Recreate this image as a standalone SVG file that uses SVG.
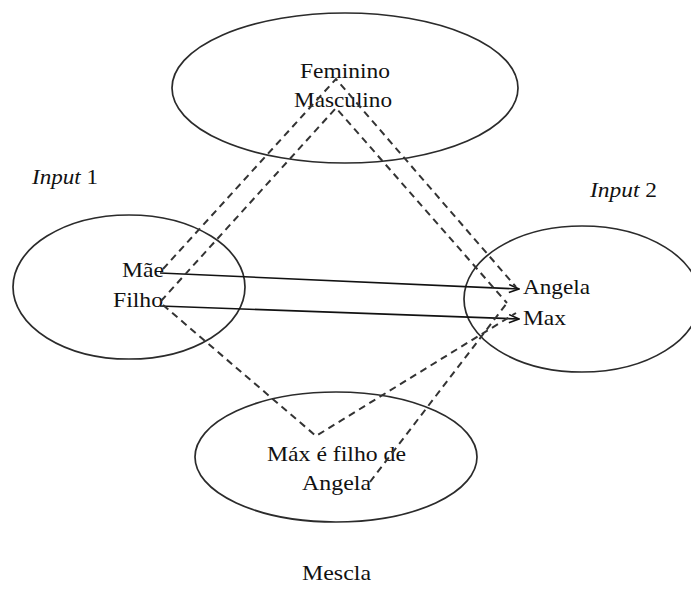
<svg xmlns="http://www.w3.org/2000/svg" width="691" height="603" viewBox="0 0 691 603">
  <style>
    .space { fill: none; stroke: #2b2b2b; stroke-width: 1.7; }
    .map { fill: none; stroke: #111; stroke-width: 1.6; }
    .proj { fill: none; stroke: #333; stroke-width: 2; stroke-dasharray: 7 5; }
    text { font-family: "Liberation Serif", "Times New Roman", serif; font-size: 22px; fill: #111; }
    .it { font-style: italic; }
  </style>
  <defs>
    <marker id="open-arrow" viewBox="0 0 12 10" refX="11" refY="5" markerWidth="12" markerHeight="10" markerUnits="userSpaceOnUse" orient="auto">
      <path d="M1,1 L11,5 L1,9" fill="none" stroke="#111" stroke-width="1.6"/>
    </marker>
  </defs>

  <rect width="691" height="603" fill="#ffffff"/>

  <!-- generic space -->
  <g id="generico">
    <ellipse class="space" cx="345" cy="88" rx="173" ry="75"/>
    <text x="300" y="78" textLength="90" lengthAdjust="spacingAndGlyphs">Feminino</text>
    <text x="294" y="107" textLength="98" lengthAdjust="spacingAndGlyphs">Masculino</text>
  </g>

  <!-- input space 1 -->
  <g id="input1">
    <ellipse class="space" cx="129" cy="287" rx="116" ry="72"/>
    <text x="32" y="184" textLength="66" lengthAdjust="spacingAndGlyphs"><tspan class="it">Input</tspan> 1</text>
    <text x="122" y="277" textLength="42" lengthAdjust="spacingAndGlyphs">Mãe</text>
    <text x="113" y="307" textLength="50" lengthAdjust="spacingAndGlyphs">Filho</text>
  </g>

  <!-- input space 2 -->
  <g id="input2">
    <ellipse class="space" cx="582" cy="299" rx="118" ry="73"/>
    <text x="590" y="197" textLength="67" lengthAdjust="spacingAndGlyphs"><tspan class="it">Input</tspan> 2</text>
    <text x="523" y="294" textLength="67" lengthAdjust="spacingAndGlyphs">Angela</text>
    <text x="523" y="325" textLength="43" lengthAdjust="spacingAndGlyphs">Max</text>
  </g>

  <!-- blended space -->
  <g id="mescla">
    <ellipse class="space" cx="336" cy="457" rx="141" ry="65"/>
    <text x="267" y="461" textLength="139" lengthAdjust="spacingAndGlyphs">Máx é filho de</text>
    <text x="302" y="490" textLength="69" lengthAdjust="spacingAndGlyphs">Angela</text>
    <text x="302" y="580" textLength="69" lengthAdjust="spacingAndGlyphs">Mescla</text>
  </g>

  <!-- connectors -->
  <g id="connectors">
    <!-- cross-space mapping -->
    <line class="map" x1="160" y1="273" x2="519" y2="289" marker-end="url(#open-arrow)"/>
    <line class="map" x1="160" y1="306" x2="519" y2="319" marker-end="url(#open-arrow)"/>
    <!-- projections to and from the generic space -->
    <polyline class="proj" points="163,269 336,79 516,287"/>
    <polyline class="proj" points="161,301 336,108 507,303"/>
    <!-- projections into the blend -->
    <polyline class="proj" points="163,305 316,436 516,313"/>
    <line class="proj" x1="370" y1="482" x2="507" y2="303"/>
  </g>
</svg>
